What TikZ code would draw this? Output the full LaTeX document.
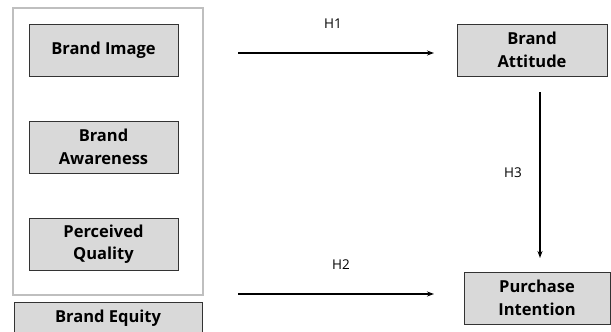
\documentclass[tikz,border=0pt]{standalone}
\usepackage{fontspec}
\setmainfont{Open Sans}
\usetikzlibrary{arrows.meta}
\begin{document}
\begin{tikzpicture}[x=1pt,y=-1pt,
  boxfont/.style={font=\bfseries\fontsize{16.5}{22.5}\selectfont},
  box/.style={draw=black!80,fill=black!15,line width=0.8pt,boxfont,align=center,inner sep=0pt},
  lab/.style={font=\fontsize{13.5}{16}\selectfont},
  arr/.style={-{Stealth[length=7pt,width=5pt]},line width=1.2pt}]
\useasboundingbox (0,0) rectangle (611,332);
\clip (0,0) rectangle (611,332);
\node[draw=black!25,line width=2pt,minimum width=190,minimum height=287,inner sep=0pt] (outer) at (108,151.5) {};
\node[box,minimum width=149,minimum height=52] (bi) at (103.5,50) {Brand Image};
\node[box,minimum width=149,minimum height=52] (ba) at (103.5,147) {Brand\\Awareness};
\node[box,minimum width=149,minimum height=52] (pq) at (103.5,244) {Perceived\\Quality};
\node[box,minimum width=188,minimum height=44] (be) at (108,324) {};
\node[boxfont] (bet) at (108,318) {Brand Equity};
\node[box,minimum width=150,minimum height=52] (bat) at (532,50) {Brand\\Attitude};
\node[box,minimum width=146,minimum height=52] (pi) at (537,298) {Purchase\\Intention};
\coordinate (h1s) at (238,53);
\coordinate (h1e) at (434,53);
\coordinate (h2s) at (238,294);
\coordinate (h2e) at (434,294);
\coordinate (h3s) at (540,92);
\coordinate (h3e) at (540,258);
\draw[arr] (h1s) -- (h1e);
\draw[arr] (h2s) -- (h2e);
\draw[arr] (h3s) -- (h3e);
\node[lab] (l1) at (333,24) {H1};
\node[lab] (l2) at (341,265) {H2};
\node[lab] (l3) at (513,173) {H3};
\end{tikzpicture}
\end{document}
